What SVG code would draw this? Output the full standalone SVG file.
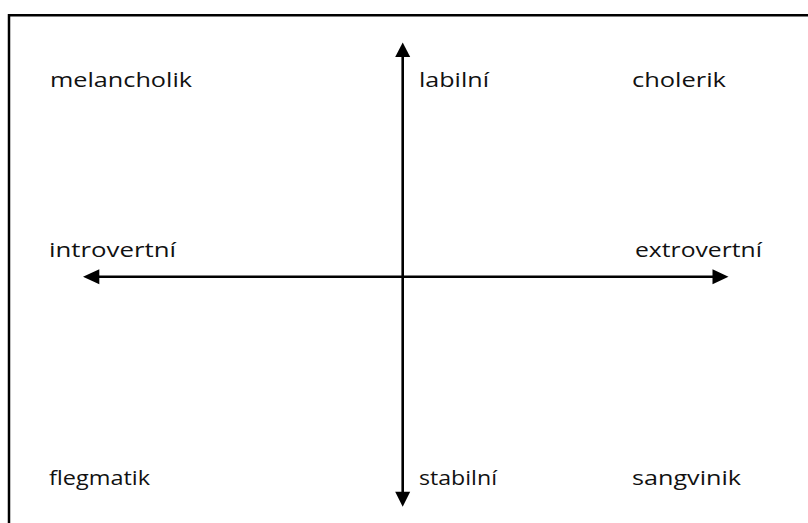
<svg xmlns="http://www.w3.org/2000/svg" width="808" height="523" viewBox="0 0 808 523">
<style>
.t{font-family:"Open Sans","Noto Sans","Liberation Sans",sans-serif;font-size:19.5px;font-weight:500;fill:#111}
.ax{stroke:#000;stroke-width:2.6;fill:none}
.frame{stroke:#000;stroke-width:2.5;fill:none}
</style>
<rect width="808" height="523" fill="#fff"/>
<path class="frame" d="M9,530 L9,15.3 L815,15.3"/>
<g id="connectors">
<line class="ax" x1="402.7" y1="52" x2="402.7" y2="497"/>
<polygon points="402.7,42.5 395.2,57 410.2,57" fill="#000"/>
<polygon points="402.7,506.8 395.2,491.8 410.2,491.8" fill="#000"/>
<line class="ax" x1="92" y1="276.7" x2="720" y2="276.7"/>
<polygon points="83,276.7 99.3,269.2 99.3,284.2" fill="#000"/>
<polygon points="728.5,276.7 712.5,269.2 712.5,284.2" fill="#000"/>
</g>
<g id="melancholik"><text class="t" x="50" y="87" textLength="142" lengthAdjust="spacingAndGlyphs">melancholik</text></g>
<g id="labilni"><text class="t" x="419" y="87" textLength="70" lengthAdjust="spacingAndGlyphs">labilní</text></g>
<g id="cholerik"><text class="t" x="632" y="87" textLength="94" lengthAdjust="spacingAndGlyphs">cholerik</text></g>
<g id="introvertni"><text class="t" x="49" y="257" textLength="127" lengthAdjust="spacingAndGlyphs">introvertní</text></g>
<g id="extrovertni"><text class="t" x="635" y="257" textLength="127" lengthAdjust="spacingAndGlyphs">extrovertní</text></g>
<g id="flegmatik"><text class="t" x="49" y="485" textLength="101" lengthAdjust="spacingAndGlyphs">flegmatik</text></g>
<g id="stabilni"><text class="t" x="419" y="485" textLength="78" lengthAdjust="spacingAndGlyphs">stabilní</text></g>
<g id="sangvinik"><text class="t" x="632" y="485" textLength="109" lengthAdjust="spacingAndGlyphs">sangvinik</text></g>
</svg>
